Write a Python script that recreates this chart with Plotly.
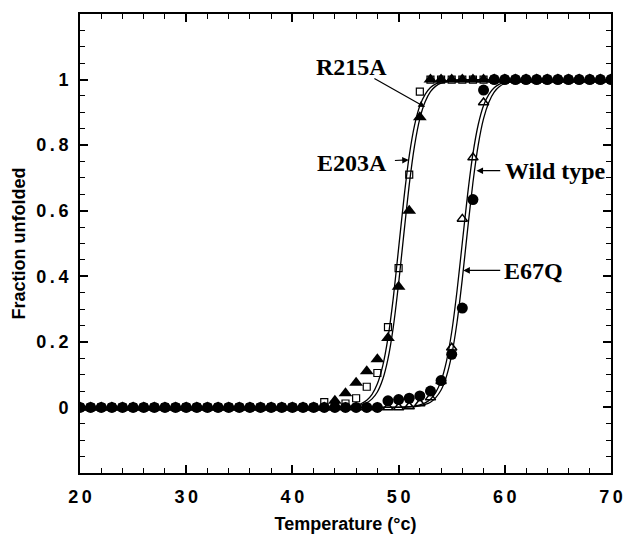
import plotly.graph_objects as go

# ---- data ----
temps = list(range(20, 71))

# R215A: open squares
r215a = [0.0] * 23 + [0.016, 0.010, 0.012, 0.028, 0.063, 0.105, 0.245, 0.425, 0.71, 0.963] + [1.0] * 18
# E203A: filled triangles
e203a = [0.0] * 24 + [0.020, 0.043, 0.075, 0.110, 0.147, 0.212, 0.368, 0.600, 0.885] + [1.0] * 18
# Wild type: open triangles
wild = [0.0] * 31 + [0.003, 0.012, 0.030, 0.080, 0.182, 0.575, 0.762, 0.930] + [1.0] * 12
# E67Q: filled circles
e67q = [0.0] * 29 + [0.020, 0.024, 0.028, 0.035, 0.050, 0.082, 0.162, 0.303, 0.634, 0.968] + [1.0] * 12

# fitted curves
fit_left_t = [20, 44, 45, 46, 46.5, 47, 47.5, 48, 48.5, 49, 49.5, 50, 50.5, 51, 51.5, 52, 52.5, 53, 53.5, 54, 55, 70]
fit_e203a = [0.0, 0.001, 0.002, 0.006, 0.012, 0.022, 0.040, 0.072, 0.126, 0.212, 0.334, 0.485, 0.637, 0.767, 0.860,
             0.920, 0.955, 0.976, 0.987, 0.993, 0.998, 1.0]
fit_r215a = [0.0, 0.0003, 0.001, 0.004, 0.008, 0.014, 0.026, 0.047, 0.085, 0.148, 0.245, 0.378, 0.531, 0.679, 0.798,
             0.881, 0.932, 0.963, 0.980, 0.989, 0.997, 1.0]
fit_right_t = [20, 50, 51, 52, 52.5, 53, 53.5, 54, 54.5, 55, 55.5, 56, 56.5, 57, 57.5, 58, 58.5, 59, 59.5, 60, 61, 70]
fit_wild = [0.0, 0.001, 0.002, 0.008, 0.014, 0.025, 0.046, 0.081, 0.140, 0.230, 0.355, 0.503, 0.650, 0.774, 0.863,
            0.921, 0.955, 0.975, 0.986, 0.9925, 0.998, 1.0]
fit_e67q = [0.0, 0.0004, 0.0014, 0.005, 0.009, 0.016, 0.030, 0.053, 0.094, 0.160, 0.259, 0.392, 0.543, 0.686, 0.801,
            0.881, 0.931, 0.962, 0.979, 0.988, 0.996, 1.0]

x_ticks = [20, 30, 40, 50, 60, 70]
x_ticktext = ["2\u20090", "3\u20090", "4\u20090", "5\u20090", "6\u20090", "7\u20090"]
y_ticks = [0, 0.2, 0.4, 0.6, 0.8, 1]
y_ticktext = ["0", "0\u2009.\u20092", "0\u2009.\u20094", "0\u2009.\u20096", "0\u2009.\u20098", "1"]

fig = go.Figure()

line_style = dict(color="black", width=1.3, shape="spline", smoothing=0.6)
for tx, ty in [(fit_left_t, fit_e203a), (fit_left_t, fit_r215a), (fit_right_t, fit_wild), (fit_right_t, fit_e67q)]:
    fig.add_trace(go.Scatter(x=tx, y=ty, mode="lines", line=line_style, showlegend=False, hoverinfo="skip"))

fig.add_trace(go.Scatter(x=temps, y=e203a, mode="markers", name="E203A",
                         marker=dict(symbol="triangle-up", size=12, color="black")))
fig.add_trace(go.Scatter(x=temps, y=e67q, mode="markers", name="E67Q",
                         marker=dict(symbol="circle", size=11, color="black")))
fig.add_trace(go.Scatter(x=temps, y=r215a, mode="markers", name="R215A",
                         marker=dict(symbol="square-open", size=7, color="black", line=dict(width=1.2))))
fig.add_trace(go.Scatter(x=temps, y=wild, mode="markers", name="Wild type",
                         marker=dict(symbol="triangle-up-open", size=9, color="black", line=dict(width=1.5))))

label_font = dict(family="Liberation Serif", size=24, color="black", weight="bold")
# labels
fig.add_annotation(x=45.6, y=1.045, text="R215A", showarrow=False, font=label_font,
                   xanchor="center", yanchor="middle", yshift=-2)
fig.add_annotation(x=45.6, y=0.752, text="E203A", showarrow=False, font=label_font,
                   xanchor="center", yanchor="middle", yshift=-2)
fig.add_annotation(x=59.85, y=0.727, text="Wild type", showarrow=False, font=label_font,
                   xanchor="left", yanchor="middle", yshift=-2)
fig.add_annotation(x=59.75, y=0.423, text="E67Q", showarrow=False, font=label_font,
                   xanchor="left", yanchor="middle", yshift=-2)
# arrows
arrows = [((52.49, 0.916), (47.58, 1.006)),
          ((50.96, 0.755), (49.51, 0.753)),
          ((57.33, 0.722), (59.71, 0.722)),
          ((56.09, 0.418), (59.71, 0.418))]
for (tx, ty), (sx, sy) in arrows:
    fig.add_annotation(x=tx, y=ty, ax=sx, ay=sy, axref="x", ayref="y", xref="x", yref="y",
                       text="", showarrow=True, arrowhead=2, arrowsize=1.1, arrowwidth=1.2,
                       arrowcolor="black", standoff=0, startstandoff=0)

tick_font = dict(family="Liberation Sans", size=18, color="black", weight="bold")
title_font = dict(family="Liberation Sans", size=18, color="black", weight="bold")
fig.update_xaxes(range=[20, 70], tickvals=x_ticks, ticktext=x_ticktext, tickfont=tick_font,
                 ticks="inside", ticklen=8, tickwidth=1.5, tickcolor="black",
                 minor=dict(dtick=2, ticks="inside", ticklen=5, tickwidth=1.2, tickcolor="black"),
                 showline=True, linecolor="black", linewidth=2, mirror="allticks",
                 showgrid=False, zeroline=False, ticklabelstandoff=6,
                 title=dict(text="Temperature (°c)", font=title_font, standoff=12))
fig.update_yaxes(range=[-0.2, 1.2], tickvals=y_ticks, ticktext=y_ticktext, tickfont=tick_font,
                 ticks="inside", ticklen=8, tickwidth=1.5, tickcolor="black",
                 minor=dict(dtick=0.05, ticks="inside", ticklen=5, tickwidth=1.2, tickcolor="black"),
                 showline=True, linecolor="black", linewidth=2, mirror="allticks",
                 showgrid=False, zeroline=False, ticklabelstandoff=6,
                 title=dict(text="Fraction unfolded", font=title_font, standoff=6))

fig.update_layout(width=634, height=542, margin=dict(l=80, r=11, t=14, b=64),
                  plot_bgcolor="white", paper_bgcolor="white", showlegend=False)

fig.write_html("out.html")
